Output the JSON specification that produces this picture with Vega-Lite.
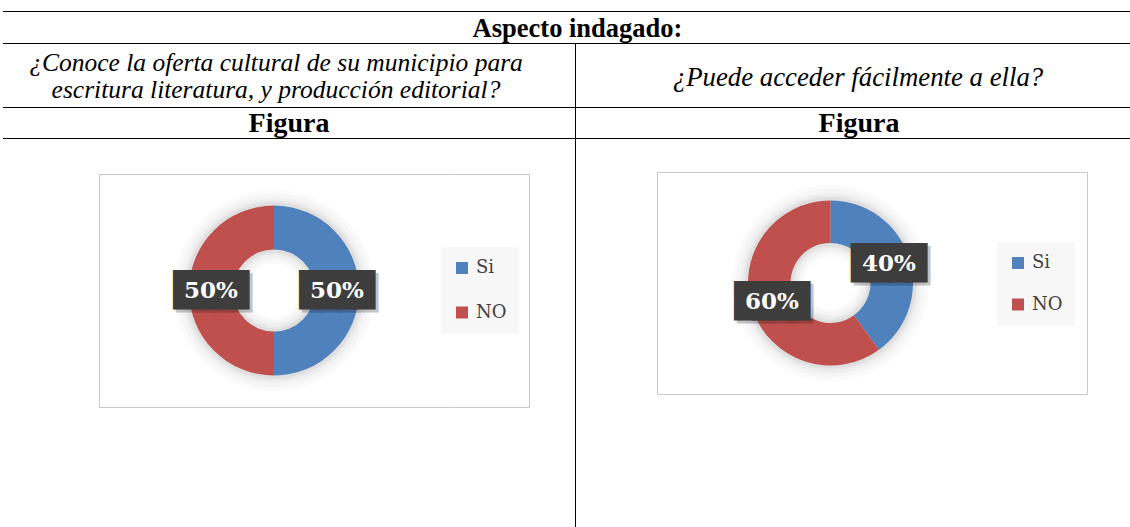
{
  "$schema": "https://vega.github.io/schema/vega-lite/v6.json",
  "background": "white",
  "padding": {"left": 3, "top": 11, "right": 0, "bottom": 0},
  "spacing": 0,
  "resolve": {"scale": {"color": "independent", "theta": "independent"}, "legend": {"color": "independent"}},
  "config": {"view": {"stroke": null}, "concat": {"spacing": 0}},
  "datasets": {
    "q1": [{"cat": "Si", "pct": 0.5}, {"cat": "NO", "pct": 0.5}],
    "q2": [{"cat": "Si", "pct": 0.4}, {"cat": "NO", "pct": 0.6}],
    "none": []
  },
  "vconcat": [
    {"width": 1127, "height": 1, "view": {"fill": "black"}, "data": {"name": "none"}, "mark": "point", "encoding": {}},
    {
      "width": 1127, "height": 31,
      "data": {"values": [{"t": "Aspecto indagado:"}]},
      "mark": {"type": "text", "font": "Liberation Serif", "fontSize": 26.5, "fontWeight": "bold", "baseline": "middle", "dx": 11, "dy": 1, "fill": "black"},
      "encoding": {"text": {"field": "t", "type": "nominal"}}
    },
    {"width": 1127, "height": 1, "view": {"fill": "black"}, "data": {"name": "none"}, "mark": "point", "encoding": {}},
    {
      "hconcat": [
        {
          "width": 572, "height": 63,
          "data": {"values": [{"t": ["¿Conoce la oferta cultural de su municipio para", "escritura literatura, y producción editorial?"]}]},
          "mark": {"type": "text", "font": "Liberation Serif", "fontSize": 25.5, "fontStyle": "italic", "baseline": "middle", "lineHeight": 27.3, "dx": -13, "dy": -12.5, "fill": "black"},
          "encoding": {"text": {"field": "t", "type": "nominal"}}
        },
        {"width": 1, "height": 63, "view": {"fill": "black"}, "data": {"name": "none"}, "mark": "point", "encoding": {}},
        {
          "width": 554, "height": 63,
          "data": {"values": [{"t": "¿Puede acceder fácilmente a ella?"}]},
          "mark": {"type": "text", "font": "Liberation Serif", "fontSize": 26.8, "fontStyle": "italic", "baseline": "middle", "dx": 5, "dy": 2, "fill": "black"},
          "encoding": {"text": {"field": "t", "type": "nominal"}}
        }
      ],
      "spacing": 0, "bounds": "flush"
    },
    {"width": 1127, "height": 1, "view": {"fill": "black"}, "data": {"name": "none"}, "mark": "point", "encoding": {}},
    {
      "hconcat": [
        {
          "width": 572, "height": 30,
          "data": {"values": [{"t": "Figura"}]},
          "mark": {"type": "text", "font": "Liberation Serif", "fontSize": 28, "fontWeight": "bold", "baseline": "middle", "dx": 0, "dy": 1, "fill": "black"},
          "encoding": {"text": {"field": "t", "type": "nominal"}}
        },
        {"width": 1, "height": 30, "view": {"fill": "black"}, "data": {"name": "none"}, "mark": "point", "encoding": {}},
        {
          "width": 554, "height": 30,
          "data": {"values": [{"t": "Figura"}]},
          "mark": {"type": "text", "font": "Liberation Serif", "fontSize": 28, "fontWeight": "bold", "baseline": "middle", "dx": 6, "dy": 1, "fill": "black"},
          "encoding": {"text": {"field": "t", "type": "nominal"}}
        }
      ],
      "spacing": 0, "bounds": "flush"
    },
    {"width": 1127, "height": 1, "view": {"fill": "black"}, "data": {"name": "none"}, "mark": "point", "encoding": {}},
    {
      "resolve": {"scale": {"color": "independent", "theta": "independent"}, "legend": {"color": "independent"}},
      "hconcat": [
        {
          "resolve": {"scale": {"color": "independent", "theta": "independent"}, "legend": {"color": "independent"}},
          "vconcat": [
            {"width": 572, "height": 34, "data": {"name": "none"}, "mark": "point", "encoding": {}},
            {
              "resolve": {"scale": {"color": "independent", "theta": "independent"}, "legend": {"color": "independent"}},
              "hconcat": [
                {"width": 96, "height": 233, "data": {"name": "none"}, "mark": "point", "encoding": {}},
                {
                  "width": 350, "height": 233,
                  "view": {"stroke": "#c8c8c8", "strokeDash": [350, 233, 583, 0]},
                  "data": {"name": "q1"},
                  "encoding": {
                    "theta": {"field": "pct", "type": "quantitative", "stack": true},
                    "order": {"field": "cat", "sort": "descending"}
                  },
                  "layer": [
                    {"mark": {"type": "arc", "innerRadius": 27, "outerRadius": 101, "fill": "black", "opacity": 0.015}},
                    {"mark": {"type": "arc", "innerRadius": 30, "outerRadius": 97, "fill": "black", "opacity": 0.02}},
                    {"mark": {"type": "arc", "innerRadius": 33, "outerRadius": 93, "fill": "black", "opacity": 0.025}},
                    {"mark": {"type": "arc", "innerRadius": 36, "outerRadius": 90, "fill": "black", "opacity": 0.03}},
                    {"mark": {"type": "arc", "innerRadius": 38, "outerRadius": 88, "fill": "black", "opacity": 0.035}},
                    {
                      "mark": {"type": "arc", "innerRadius": 41, "outerRadius": 85},
                      "encoding": {
                        "color": {
                          "field": "cat", "type": "nominal",
                          "scale": {"domain": ["Si", "NO"], "range": ["#4f81bd", "#c0504d"]},
                          "legend": {"orient": "none", "legendX": 342, "legendY": 73, "title": null, "fillColor": "#f7f7f7", "padding": 12, "symbolType": "square", "symbolSize": 144, "symbolStrokeWidth": 0, "symbolOpacity": 1, "labelFont": "DejaVu Serif", "labelFontSize": 18, "labelColor": "#404040", "labelOffset": 5, "rowPadding": 26.5}
                        }
                      }
                    },
                    {"mark": {"type": "text", "radius": 63, "text": "████", "font": "DejaVu Sans Mono", "fontSize": 30, "baseline": "middle", "fill": "black", "stroke": "black", "strokeWidth": 4, "strokeJoin": "miter", "opacity": 0.22, "dx": 3, "dy": 3}},
                    {"mark": {"type": "text", "radius": 63, "text": "████", "font": "DejaVu Sans Mono", "fontSize": 30, "baseline": "middle", "fill": "#3d3d3d", "stroke": "#3d3d3d", "strokeWidth": 4, "strokeJoin": "miter"}},
                    {
                      "mark": {"type": "text", "radius": 63, "font": "DejaVu Serif", "fontWeight": "bold", "fontSize": 23, "baseline": "middle", "fill": "white"},
                      "encoding": {"text": {"field": "pct", "type": "quantitative", "format": ".0%"}}
                    }
                  ]
                },
                {
                  "width": 80, "height": 233,
                  "view": {"stroke": "#c8c8c8", "strokeDash": [393, 233]},
                  "data": {"name": "none"}, "mark": "point", "encoding": {}
                },
                {"width": 46, "height": 233, "data": {"name": "none"}, "mark": "point", "encoding": {}}
              ],
              "spacing": 0, "bounds": "flush"
            }
          ],
          "spacing": 0
        },
        {"width": 1, "height": 388, "view": {"fill": "black"}, "data": {"name": "none"}, "mark": "point", "encoding": {}},
        {
          "resolve": {"scale": {"color": "independent", "theta": "independent"}, "legend": {"color": "independent"}},
          "vconcat": [
            {"width": 554, "height": 32, "data": {"name": "none"}, "mark": "point", "encoding": {}},
            {
              "resolve": {"scale": {"color": "independent", "theta": "independent"}, "legend": {"color": "independent"}},
              "hconcat": [
                {"width": 81, "height": 222, "data": {"name": "none"}, "mark": "point", "encoding": {}},
                {
                  "width": 347, "height": 222,
                  "view": {"stroke": "#c8c8c8", "strokeDash": [347, 222, 569, 0]},
                  "data": {"name": "q2"},
                  "encoding": {
                    "theta": {"field": "pct", "type": "quantitative", "stack": true},
                    "order": {"field": "cat", "sort": "descending"}
                  },
                  "layer": [
                    {"mark": {"type": "arc", "innerRadius": 26, "outerRadius": 98.5, "fill": "black", "opacity": 0.015}},
                    {"mark": {"type": "arc", "innerRadius": 29, "outerRadius": 94.5, "fill": "black", "opacity": 0.02}},
                    {"mark": {"type": "arc", "innerRadius": 32, "outerRadius": 90.5, "fill": "black", "opacity": 0.025}},
                    {"mark": {"type": "arc", "innerRadius": 35, "outerRadius": 87.5, "fill": "black", "opacity": 0.03}},
                    {"mark": {"type": "arc", "innerRadius": 37, "outerRadius": 85.5, "fill": "black", "opacity": 0.035}},
                    {
                      "mark": {"type": "arc", "innerRadius": 40, "outerRadius": 82.5},
                      "encoding": {
                        "color": {
                          "field": "cat", "type": "nominal",
                          "scale": {"domain": ["Si", "NO"], "range": ["#4f81bd", "#c0504d"]},
                          "legend": {"orient": "none", "legendX": 340, "legendY": 70, "title": null, "fillColor": "#f7f7f7", "padding": 12, "symbolType": "square", "symbolSize": 144, "symbolStrokeWidth": 0, "symbolOpacity": 1, "labelFont": "DejaVu Serif", "labelFontSize": 18, "labelColor": "#404040", "labelOffset": 5, "rowPadding": 23.5}
                        }
                      }
                    },
                    {"mark": {"type": "text", "radius": 61.5, "text": "████", "font": "DejaVu Sans Mono", "fontSize": 30, "baseline": "middle", "fill": "black", "stroke": "black", "strokeWidth": 4, "strokeJoin": "miter", "opacity": 0.22, "dx": 3, "dy": 3}},
                    {"mark": {"type": "text", "radius": 61.5, "text": "████", "font": "DejaVu Sans Mono", "fontSize": 30, "baseline": "middle", "fill": "#3d3d3d", "stroke": "#3d3d3d", "strokeWidth": 4, "strokeJoin": "miter"}},
                    {
                      "mark": {"type": "text", "radius": 61.5, "font": "DejaVu Serif", "fontWeight": "bold", "fontSize": 23, "baseline": "middle", "fill": "white"},
                      "encoding": {"text": {"field": "pct", "type": "quantitative", "format": ".0%"}}
                    }
                  ]
                },
                {
                  "width": 83, "height": 222,
                  "view": {"stroke": "#c8c8c8", "strokeDash": [388, 222]},
                  "data": {"name": "none"}, "mark": "point", "encoding": {}
                },
                {"width": 43, "height": 222, "data": {"name": "none"}, "mark": "point", "encoding": {}}
              ],
              "spacing": 0, "bounds": "flush"
            }
          ],
          "spacing": 0
        }
      ],
      "spacing": 0
    }
  ]
}
